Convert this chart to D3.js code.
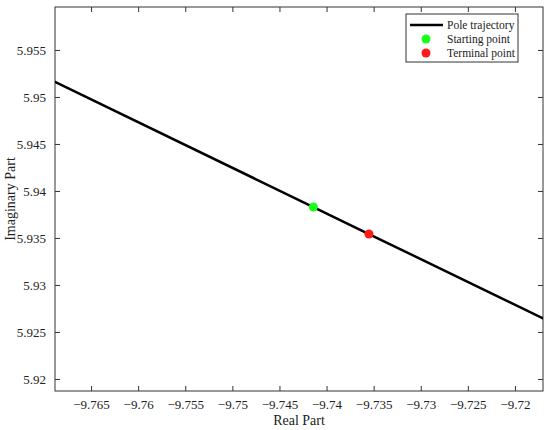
<!DOCTYPE html>
<html>
<head>
<meta charset="utf-8">
<script src="https://cdn.jsdelivr.net/npm/d3@7"></script>
<style>
  body { margin: 0; background: #fff; }
  svg text { font-family: "Liberation Serif", "Times New Roman", serif !important; fill: #222; }
</style>
</head>
<body>
<script>
// Chart basic vars
var width = 550,
    height = 430,
    margin = {left: 55, top: 7, right: 7, bottom: 39};

// data
var trajReal = [-9.7700, -9.7414, -9.7355, -9.7150];
var trajImag = [5.95217, 5.93829, 5.93542, 5.92547];
var startPt = [-9.7414, 5.93829];
var termPt = [-9.7355, 5.93542];
var xTicks = [-9.765, -9.76, -9.755, -9.75, -9.745, -9.74, -9.735, -9.73, -9.725, -9.72];
var yTicks = [5.92, 5.925, 5.93, 5.935, 5.94, 5.945, 5.95, 5.955];
var legendLabels = ['Pole trajectory', 'Starting point', 'Terminal point'];

var x = d3.scaleLinear()
    .domain([-9.76883, -9.71702])
    .range([margin.left, width - margin.right]),
  y = d3.scaleLinear()
    .domain([5.91872, 5.95957])
    .range([height - margin.bottom, margin.top]);

var fmt = function(d) { return String(+d.toFixed(3)).replace('-', '\u2212'); };

var svg = d3.select('body').append('svg')
    .attr('width', width)
    .attr('height', height);

svg.append('clipPath').attr('id', 'clip')
  .append('rect')
    .attr('x', margin.left).attr('y', margin.top)
    .attr('width', width - margin.left - margin.right)
    .attr('height', height - margin.top - margin.bottom);

// axes, ticks pointing inward like matlab
var axes = [
  {ax: d3.axisBottom(x).tickValues(xTicks).tickSizeInner(-5).tickSizeOuter(0).tickPadding(9).tickFormat(fmt),
   t: 'translate(0,' + (height - margin.bottom) + ')'},
  {ax: d3.axisTop(x).tickValues(xTicks).tickSizeInner(-5).tickSizeOuter(0).tickFormat(''),
   t: 'translate(0,' + margin.top + ')'},
  {ax: d3.axisLeft(y).tickValues(yTicks).tickSizeInner(-5).tickSizeOuter(0).tickPadding(9).tickFormat(fmt),
   t: 'translate(' + margin.left + ',0)'},
  {ax: d3.axisRight(y).tickValues(yTicks).tickSizeInner(-5).tickSizeOuter(0).tickFormat(''),
   t: 'translate(' + (width - margin.right) + ',0)'}
];
axes.forEach(function(a) {
  var g = svg.append('g').attr('transform', a.t).call(a.ax)
      .attr('font-family', null);
  g.select('.domain').remove();
  g.selectAll('line').attr('stroke', '#333');
  g.selectAll('text')
      .style('font-family', '"Liberation Serif", serif')
      .style('font-size', '13px')
      .attr('fill', '#222');
});

svg.append('rect')
    .attr('x', margin.left).attr('y', margin.top)
    .attr('width', width - margin.left - margin.right)
    .attr('height', height - margin.top - margin.bottom)
    .attr('fill', 'none').attr('stroke', '#333').attr('stroke-width', 1);

// trajectory
var line = d3.line()
    .x(function(d, i) { return x(trajReal[i]); })
    .y(function(d, i) { return y(trajImag[i]); });

svg.append('path')
    .datum(trajReal)
    .attr('clip-path', 'url(#clip)')
    .attr('d', line)
    .attr('fill', 'none')
    .attr('stroke', '#000')
    .attr('stroke-width', 2.5);

svg.append('circle')
    .attr('cx', x(startPt[0])).attr('cy', y(startPt[1])).attr('r', 4.5)
    .attr('fill', '#1aff1a');
svg.append('circle')
    .attr('cx', x(termPt[0])).attr('cy', y(termPt[1])).attr('r', 4.5)
    .attr('fill', '#ff1a1a');

// axis titles
svg.append('text')
    .attr('x', x((x.domain()[0] + x.domain()[1]) / 2))
    .attr('y', 425)
    .attr('text-anchor', 'middle')
    .style('font-size', '14px')
    .text('Real Part');

svg.append('text')
    .attr('transform', 'translate(15,' + y((y.domain()[0] + y.domain()[1]) / 2) + ') rotate(-90)')
    .attr('text-anchor', 'middle')
    .style('font-size', '14px')
    .text('Imaginary Part');

// legend
var leg = svg.append('g').attr('transform', 'translate(406,14)');
leg.append('rect')
    .attr('width', 112).attr('height', 48)
    .attr('fill', '#fff').attr('stroke', '#333').attr('stroke-width', 1);
leg.append('line')
    .attr('x1', 4).attr('x2', 37).attr('y1', 11).attr('y2', 11)
    .attr('stroke', '#000').attr('stroke-width', 2.5);
leg.append('circle').attr('cx', 20).attr('cy', 25).attr('r', 4.5).attr('fill', '#1aff1a');
leg.append('circle').attr('cx', 20).attr('cy', 39).attr('r', 4.5).attr('fill', '#ff1a1a');
leg.selectAll('.lbl')
    .data(legendLabels)
  .enter().append('text')
    .attr('x', 41)
    .attr('y', function(d, i) { return 15 + i * 14; })
    .style('font-size', '11.5px')
    .text(function(d) { return d; });
</script>
</body>
</html>
